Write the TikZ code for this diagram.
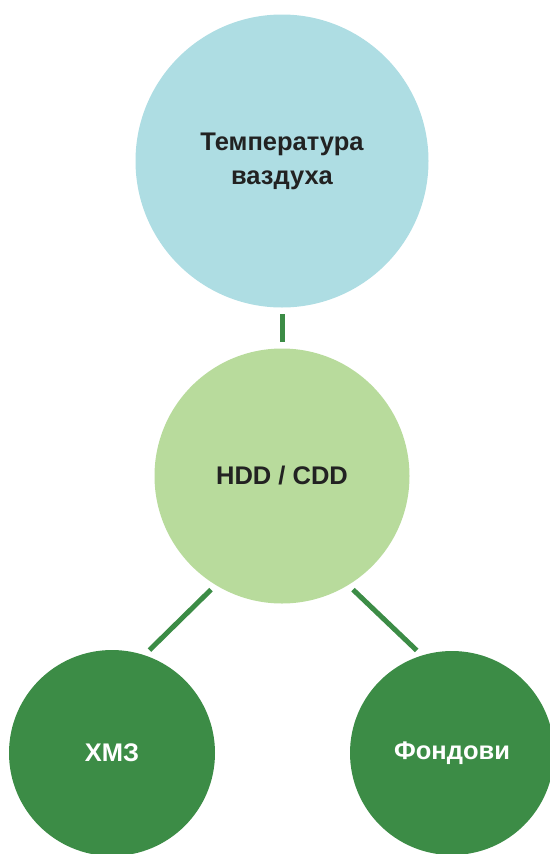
\documentclass[tikz,border=0pt]{standalone}
\usepackage{fontspec}
\setmainfont{Liberation Sans}
\usepackage{tikz}

\definecolor{skyblue}{HTML}{AEDDE3}
\definecolor{palegreen}{HTML}{B8DB9C}
\definecolor{leafgreen}{HTML}{3C8C46}
\definecolor{inkgray}{HTML}{222222}

\begin{document}
\begin{tikzpicture}[x=1pt,y=-1pt,
  ball/.style={circle,inner sep=0pt,outer sep=6.5pt,align=center,font=\bfseries\fontsize{25.5}{34}\selectfont},
  link/.style={leafgreen,line width=5pt}]
\useasboundingbox (0,0) rectangle (549,854);

\node[ball,fill=skyblue,text=inkgray,minimum size=293pt] (air) at (282,161) {Температура\\ваздуха};
\node[ball,fill=palegreen,text=inkgray,minimum size=255pt] (dd) at (282,476) {HDD / CDD};
\node[ball,fill=leafgreen,text=white,minimum size=206pt] (hmz) at (112,753) {ХМЗ};
\node[ball,fill=leafgreen,text=white,minimum size=204pt] (fund) at (452,753) {Фондови};

\draw[link] (air.south) -- (dd.north);
\draw[link] (dd.238) -- (hmz.70);
\draw[link] (dd.302) -- (fund.109);

\end{tikzpicture}
\end{document}
